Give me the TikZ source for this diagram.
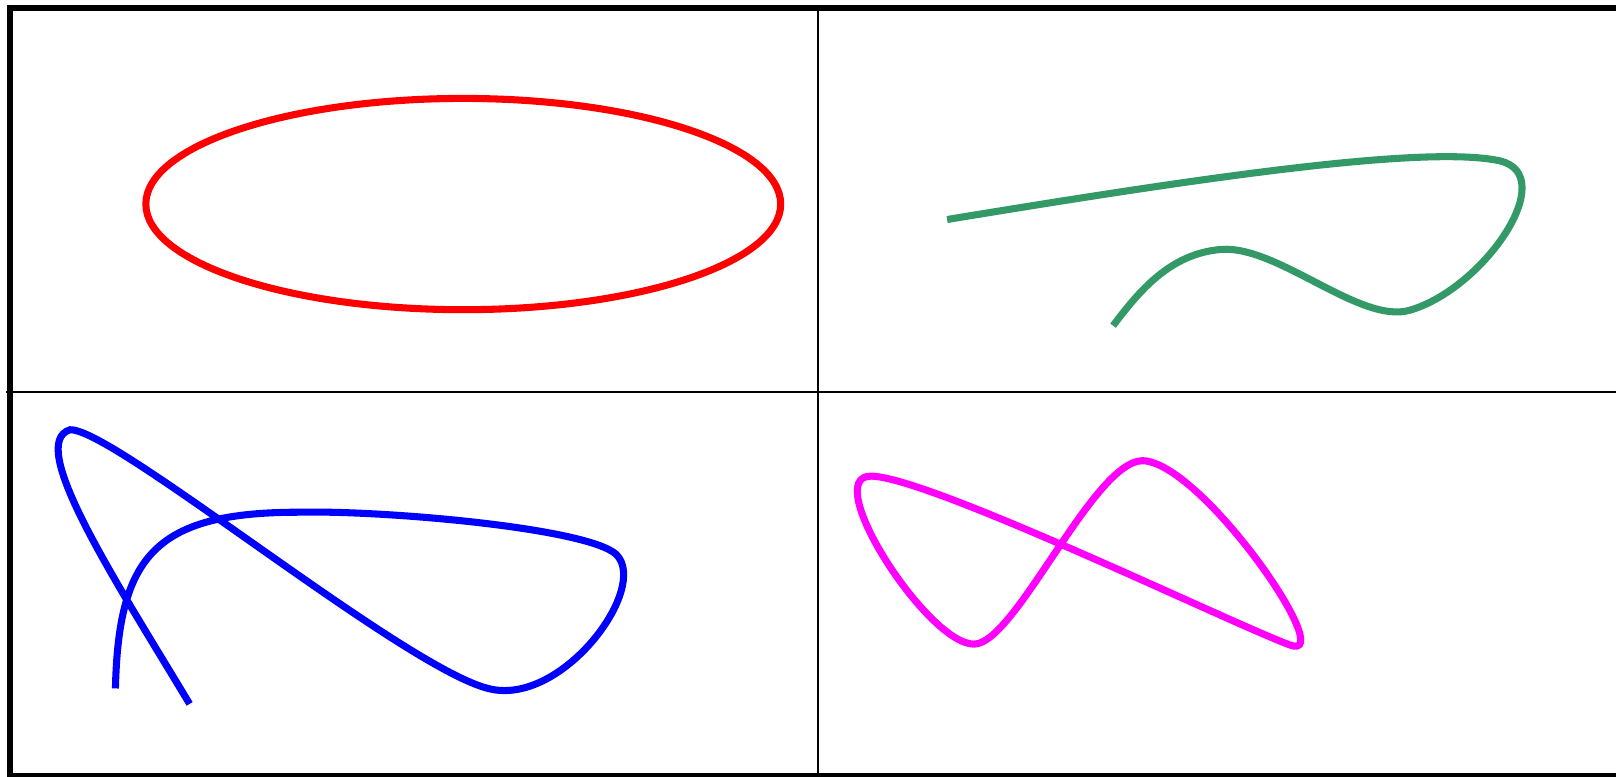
\documentclass[tikz,border=0pt]{standalone}
\definecolor{curvegreen}{RGB}{51,153,102}
\definecolor{curvered}{RGB}{255,0,0}
\definecolor{curveblue}{RGB}{0,0,255}
\definecolor{curvemagenta}{RGB}{255,0,255}
\tikzset{
  curve/.style={line width=1.95pt},
  grid line/.style={line width=0.6pt, black},
  frame line/.style={line width=1.7pt, black}
}
\begin{document}
\begin{tikzpicture}[x=0.1mm,y=-0.1mm]
\useasboundingbox (0,0) rectangle (1568,753);
\begin{scope}
\clip (0,0) rectangle (1568,753);
% grid
\coordinate (gl) at (6,380.4);
\coordinate (gr) at (1578.6,380.4);
\coordinate (gt) at (794,7.8);
\coordinate (gb) at (794,753);
\draw[grid line] (gl) -- (gr);
\draw[grid line] (gt) -- (gb);
% frame
\coordinate (fa) at (9.4,7.8);
\coordinate (fb) at (1578.6,753);
\draw[frame line] (fa) rectangle (fb);
\end{scope}
% red ellipse
\draw[curve, curvered] (449.5,198) ellipse [x radius=308, y radius=102.5];
% green curve
\draw[curve, curvegreen] (919,213) .. controls (1150,175) and (1380,140) .. (1455,156)
  .. controls (1515,170) and (1440,280) .. (1368,301)
  .. controls (1320,315) and (1240,238) .. (1185,242)
  .. controls (1135,246) and (1105,283) .. (1080,316);
% blue curve
\draw[curve, curveblue] (184,683) .. controls (110,560) and (25,430) .. (68,417)
  .. controls (110,415) and (400,655) .. (478,669)
  .. controls (548,682) and (630,570) .. (598,538)
  .. controls (570,512) and (370,495) .. (290,497)
  .. controls (150,497) and (115,540) .. (112,668);
% magenta curve
\draw[curve, curvemagenta] (845,462) .. controls (900,462) and (1195,605) .. (1252,626)
  .. controls (1300,643) and (1165,447) .. (1108,447)
  .. controls (1060,449) and (985,625) .. (945,625)
  .. controls (900,625) and (795,462) .. cycle;
\end{tikzpicture}
\end{document}
